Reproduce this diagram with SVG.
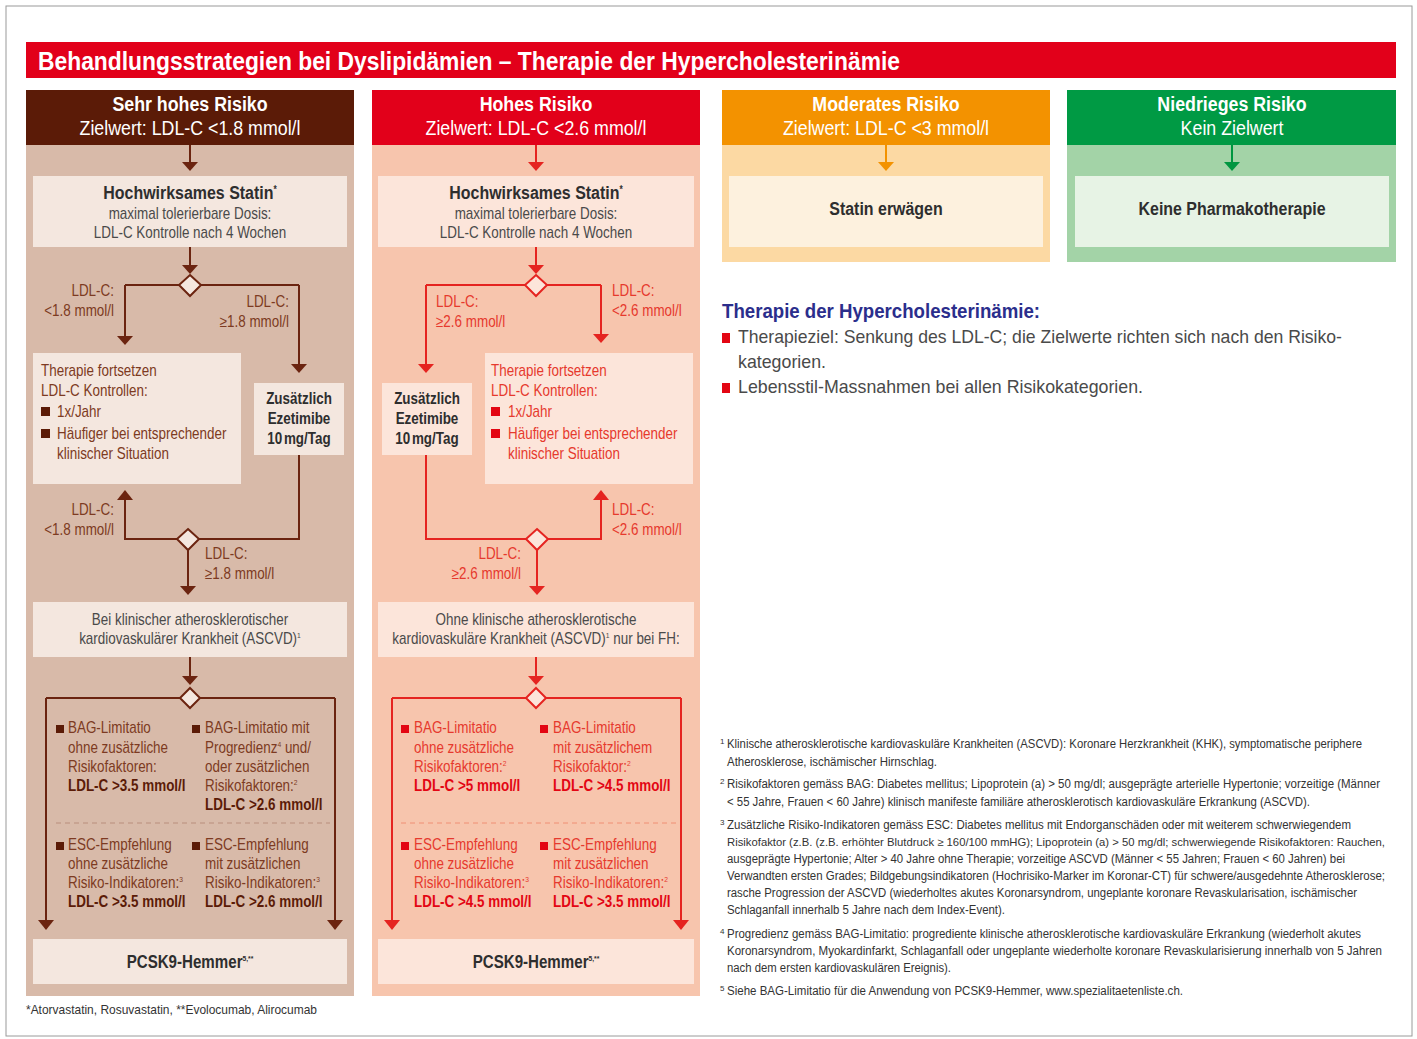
<svg xmlns="http://www.w3.org/2000/svg" width="1417" height="1039" viewBox="0 0 1417 1039">
<style>
text{font-family:"Liberation Sans",Arial,sans-serif;font-size:16px;transform-box:fill-box;transform-origin:0 50%;transform:scaleX(.84)}
.w{transform:none}
.b{font-weight:bold}
.hd{fill:#fff;font-size:20px;text-anchor:middle;transform-origin:50% 50%;transform:scaleX(.89)}
.c{text-anchor:middle;transform-origin:50% 50%}
.r{text-anchor:end;transform-origin:100% 50%}
.dk{fill:#2e2e2e}
.gr{fill:#4a4a4a}
.br{fill:#7d3a22}
.brd{fill:#5b1b07}
.rd{fill:#e6392d}
.rdd{fill:#e30613}
.ln1{stroke:#6b2410;stroke-width:2;fill:none}
.ln2{stroke:#e52420;stroke-width:2;fill:none}
.fn{font-size:12px;fill:#333;transform:none}
.fs{font-size:8px;fill:#333;transform:none}
.sup{font-size:8px}
</style>
<rect x="6" y="6" width="1406" height="1030" fill="#fff" stroke="#9a9a9a" stroke-width="1"/>
<g id="title">
<rect x="26" y="42" width="1370" height="36" fill="#e2001a"/>
<text x="38" y="70" class="b w" style="font-size:25px" fill="#fff" textLength="862" lengthAdjust="spacingAndGlyphs">Behandlungsstrategien bei Dyslipidämien – Therapie der Hypercholesterinämie</text>
</g>
<g id="col1">
<rect x="26" y="145" width="328" height="851" fill="#d8baa9"/>
<rect x="26" y="90" width="328" height="55" fill="#5b1b07"/>
<text x="190" y="111" class="hd b">Sehr hohes Risiko</text>
<text x="190" y="135" class="hd">Zielwert: LDL-C &lt;1.8 mmol/l</text>
</g>
<g id="col2">
<rect x="372" y="145" width="328" height="851" fill="#f7c5ad"/>
<rect x="372" y="90" width="328" height="55" fill="#e2001a"/>
<text x="536" y="111" class="hd b">Hohes Risiko</text>
<text x="536" y="135" class="hd">Zielwert: LDL-C &lt;2.6 mmol/l</text>
</g>
<g id="col3">
<rect x="722" y="145" width="328" height="117" fill="#fcd9a3"/>
<rect x="722" y="90" width="328" height="55" fill="#f39200"/>
<text x="886" y="111" class="hd b">Moderates Risiko</text>
<text x="886" y="135" class="hd">Zielwert: LDL-C &lt;3 mmol/l</text>
</g>
<g id="col4">
<rect x="1067" y="145" width="329" height="117" fill="#a3d3a7"/>
<rect x="1067" y="90" width="329" height="55" fill="#009a44"/>
<text x="1232" y="111" class="hd b">Niedrieges Risiko</text>
<text x="1232" y="135" class="hd">Kein Zielwert</text>
</g>

<g id="statin1">
<rect x="33" y="176" width="314" height="71" fill="#f4e7df"/>
<text x="190" y="199" class="c b dk" style="font-size:19px">Hochwirksames Statin<tspan font-size="10" dy="-6">*</tspan></text>
<text x="190" y="219" class="c gr">maximal tolerierbare Dosis:</text>
<text x="190" y="238" class="c gr">LDL-C Kontrolle nach 4 Wochen</text>
</g>
<g id="fort1">
<rect x="33" y="353" width="208" height="131" fill="#f4e7df"/>
<text x="41" y="376" class="br">Therapie fortsetzen</text>
<text x="41" y="396" class="br">LDL-C Kontrollen:</text>
<rect x="41" y="407" width="9" height="9" fill="#5b1b07"/>
<text x="57" y="417" class="br">1x/Jahr</text>
<rect x="41" y="429" width="9" height="9" fill="#5b1b07"/>
<text x="57" y="439" class="br">Häufiger bei entsprechender</text>
<text x="57" y="459" class="br">klinischer Situation</text>
</g>
<g id="eze1">
<rect x="254" y="383" width="90" height="72" fill="#f4e7df"/>
<text x="299" y="404" class="c b dk">Zusätzlich</text>
<text x="299" y="424" class="c b dk">Ezetimibe</text>
<text x="299" y="444" class="c b dk">10<tspan dx="2">mg/Tag</tspan></text>
</g>
<g id="ascvd1">
<rect x="33" y="602" width="314" height="55" fill="#f4e7df"/>
<text x="190" y="625" class="c gr">Bei klinischer atherosklerotischer</text>
<text x="190" y="644" class="c gr">kardiovaskulärer Krankheit (ASCVD)<tspan class="sup" dy="-6">1</tspan></text>
</g>
<g id="crit1">
<rect x="56" y="725" width="8" height="8" fill="#5b1b07"/>
<text x="68" y="733" class="br">BAG-Limitatio</text>
<text x="68" y="753" class="br">ohne zusätzliche</text>
<text x="68" y="772" class="br">Risikofaktoren:</text>
<text x="68" y="791" class="brd b">LDL-C &gt;3.5 mmol/l</text>
<rect x="192" y="725" width="8" height="8" fill="#5b1b07"/>
<text x="205" y="733" class="br">BAG-Limitatio mit</text>
<text x="205" y="753" class="br">Progredienz<tspan class="sup" dy="-6">4</tspan><tspan dy="6"> und/</tspan></text>
<text x="205" y="772" class="br">oder zusätzlichen</text>
<text x="205" y="791" class="br">Risikofaktoren:<tspan class="sup" dy="-6">2</tspan></text>
<text x="205" y="810" class="brd b">LDL-C &gt;2.6 mmol/l</text>
<line x1="56" y1="823" x2="330" y2="823" stroke="#b98e7c" stroke-width="1" stroke-dasharray="5,4"/>
<rect x="56" y="842" width="8" height="8" fill="#5b1b07"/>
<text x="68" y="850" class="br">ESC-Empfehlung</text>
<text x="68" y="869" class="br">ohne zusätzliche</text>
<text x="68" y="888" class="br">Risiko-Indikatoren:<tspan class="sup" dy="-6">3</tspan></text>
<text x="68" y="907" class="brd b">LDL-C &gt;3.5 mmol/l</text>
<rect x="192" y="842" width="8" height="8" fill="#5b1b07"/>
<text x="205" y="850" class="br">ESC-Empfehlung</text>
<text x="205" y="869" class="br">mit zusätzlichen</text>
<text x="205" y="888" class="br">Risiko-Indikatoren:<tspan class="sup" dy="-6">3</tspan></text>
<text x="205" y="907" class="brd b">LDL-C &gt;2.6 mmol/l</text>
</g>
<g id="pcsk1">
<rect x="33" y="939" width="314" height="45" fill="#f4e7df"/>
<text x="190" y="968" class="c b dk" style="font-size:18px">PCSK9-Hemmer<tspan font-size="8" dy="-7">5,**</tspan></text>
</g>

<g id="statin2">
<rect x="378" y="176" width="316" height="71" fill="#fce5da"/>
<text x="536" y="199" class="c b dk" style="font-size:19px">Hochwirksames Statin<tspan font-size="10" dy="-6">*</tspan></text>
<text x="536" y="219" class="c gr">maximal tolerierbare Dosis:</text>
<text x="536" y="238" class="c gr">LDL-C Kontrolle nach 4 Wochen</text>
</g>
<g id="eze2">
<rect x="382" y="383" width="90" height="72" fill="#fce5da"/>
<text x="427" y="404" class="c b dk">Zusätzlich</text>
<text x="427" y="424" class="c b dk">Ezetimibe</text>
<text x="427" y="444" class="c b dk">10<tspan dx="2">mg/Tag</tspan></text>
</g>
<g id="fort2">
<rect x="485" y="353" width="208" height="131" fill="#fce5da"/>
<text x="491" y="376" class="rd">Therapie fortsetzen</text>
<text x="491" y="396" class="rd">LDL-C Kontrollen:</text>
<rect x="491" y="407" width="9" height="9" fill="#e30613"/>
<text x="508" y="417" class="rd">1x/Jahr</text>
<rect x="491" y="429" width="9" height="9" fill="#e30613"/>
<text x="508" y="439" class="rd">Häufiger bei entsprechender</text>
<text x="508" y="459" class="rd">klinischer Situation</text>
</g>
<g id="ascvd2">
<rect x="378" y="602" width="316" height="55" fill="#fce5da"/>
<text x="536" y="625" class="c gr">Ohne klinische atherosklerotische</text>
<text x="536" y="644" class="c gr">kardiovaskuläre Krankheit (ASCVD)<tspan class="sup" dy="-6">1</tspan><tspan dy="6"> nur bei FH:</tspan></text>
</g>
<g id="crit2">
<rect x="401" y="725" width="8" height="8" fill="#e30613"/>
<text x="414" y="733" class="rd">BAG-Limitatio</text>
<text x="414" y="753" class="rd">ohne zusätzliche</text>
<text x="414" y="772" class="rd">Risikofaktoren:<tspan class="sup" dy="-6">2</tspan></text>
<text x="414" y="791" class="rdd b">LDL-C &gt;5 mmol/l</text>
<rect x="540" y="725" width="8" height="8" fill="#e30613"/>
<text x="553" y="733" class="rd">BAG-Limitatio</text>
<text x="553" y="753" class="rd">mit zusätzlichem</text>
<text x="553" y="772" class="rd">Risikofaktor:<tspan class="sup" dy="-6">2</tspan></text>
<text x="553" y="791" class="rdd b">LDL-C &gt;4.5 mmol/l</text>
<line x1="401" y1="823" x2="676" y2="823" stroke="#f08f75" stroke-width="1" stroke-dasharray="5,4"/>
<rect x="401" y="842" width="8" height="8" fill="#e30613"/>
<text x="414" y="850" class="rd">ESC-Empfehlung</text>
<text x="414" y="869" class="rd">ohne zusätzliche</text>
<text x="414" y="888" class="rd">Risiko-Indikatoren:<tspan class="sup" dy="-6">3</tspan></text>
<text x="414" y="907" class="rdd b">LDL-C &gt;4.5 mmol/l</text>
<rect x="540" y="842" width="8" height="8" fill="#e30613"/>
<text x="553" y="850" class="rd">ESC-Empfehlung</text>
<text x="553" y="869" class="rd">mit zusätzlichen</text>
<text x="553" y="888" class="rd">Risiko-Indikatoren:<tspan class="sup" dy="-6">2</tspan></text>
<text x="553" y="907" class="rdd b">LDL-C &gt;3.5 mmol/l</text>
</g>
<g id="pcsk2">
<rect x="378" y="939" width="316" height="45" fill="#fce5da"/>
<text x="536" y="968" class="c b dk" style="font-size:18px">PCSK9-Hemmer<tspan font-size="8" dy="-7">5,**</tspan></text>
</g>

<g id="statin3">
<rect x="729" y="176" width="314" height="71" fill="#fdf1de"/>
<text x="886" y="215" class="c b dk" style="font-size:19px">Statin erwägen</text>
</g>
<g id="keine4">
<rect x="1075" y="176" width="314" height="71" fill="#e7f3e5"/>
<text x="1232" y="215" class="c b dk" style="font-size:19px">Keine Pharmakotherapie</text>
</g>

<g id="connectors">
<path class="ln1" d="M190,145V163M190,247V266M125,285H179M201,285H299M125,285V337M299,285V365M299,455V539H199M177,539H125V500M188,550V587M190,657V677M46,698H180M200,698H335M46,698V921M335,698V921"/>
<g fill="#6b2410">
<polygon points="182,162 198,162 190,171"/>
<polygon points="182,265 198,265 190,274"/>
<polygon points="117,336 133,336 125,345"/>
<polygon points="291,364 307,364 299,373"/>
<polygon points="117,500 133,500 125,490"/>
<polygon points="180,586 196,586 188,595"/>
<polygon points="182,676 198,676 190,685"/>
<polygon points="38,920 54,920 46,930"/>
<polygon points="327,920 343,920 335,930"/>
</g>
<g fill="#f4e7df" stroke="#6b2410" stroke-width="2">
<polygon points="190,275 201,285 190,296 179,285"/>
<polygon points="188,529 199,539 188,550 177,539"/>
<polygon points="190,688 200,698 190,708 180,698"/>
</g>
<path class="ln2" d="M536,145V163M536,247V266M426,285H525M547,285H601M426,285V365M601,285V335M426,455V539H526M548,539H601V500M537,550V587M536,657V677M392,698H526M546,698H681M392,698V921M681,698V921"/>
<g fill="#e52420">
<polygon points="528,162 544,162 536,171"/>
<polygon points="528,265 544,265 536,274"/>
<polygon points="418,364 434,364 426,373"/>
<polygon points="593,334 609,334 601,343"/>
<polygon points="593,500 609,500 601,490"/>
<polygon points="529,586 545,586 537,595"/>
<polygon points="528,676 544,676 536,685"/>
<polygon points="384,920 400,920 392,930"/>
<polygon points="673,920 689,920 681,930"/>
</g>
<g fill="#fce5da" stroke="#e52420" stroke-width="2">
<polygon points="536,275 547,285 536,296 525,285"/>
<polygon points="537,529 548,539 537,550 526,539"/>
<polygon points="536,688 546,698 536,708 526,698"/>
</g>
<path d="M886,145V163" stroke="#f39200" stroke-width="2"/>
<polygon points="878,162 894,162 886,171" fill="#f39200"/>
<path d="M1232,145V163" stroke="#009640" stroke-width="2"/>
<polygon points="1224,162 1240,162 1232,171" fill="#009640"/>
</g>

<g id="labels1">
<text x="114" y="296" class="r br">LDL-C:</text>
<text x="114" y="316" class="r br">&lt;1.8 mmol/l</text>
<text x="289" y="307" class="r br">LDL-C:</text>
<text x="289" y="327" class="r br">≥1.8 mmol/l</text>
<text x="114" y="515" class="r br">LDL-C:</text>
<text x="114" y="535" class="r br">&lt;1.8 mmol/l</text>
<text x="205" y="559" class="br">LDL-C:</text>
<text x="205" y="579" class="br">≥1.8 mmol/l</text>
</g>
<g id="labels2">
<text x="436" y="307" class="rd">LDL-C:</text>
<text x="436" y="327" class="rd">≥2.6 mmol/l</text>
<text x="612" y="296" class="rd">LDL-C:</text>
<text x="612" y="316" class="rd">&lt;2.6 mmol/l</text>
<text x="612" y="515" class="rd">LDL-C:</text>
<text x="612" y="535" class="rd">&lt;2.6 mmol/l</text>
<text x="521" y="559" class="r rd">LDL-C:</text>
<text x="521" y="579" class="r rd">≥2.6 mmol/l</text>
</g>

<text x="26" y="1014" class="w" style="font-size:13.5px" fill="#333" textLength="291" lengthAdjust="spacingAndGlyphs">*Atorvastatin, Rosuvastatin, **Evolocumab, Alirocumab</text>

<g id="info">
<text x="722" y="318" class="b w" style="font-size:21px" fill="#2b2e8c" textLength="318" lengthAdjust="spacingAndGlyphs">Therapie der Hypercholesterinämie:</text>
<rect x="722" y="333" width="8" height="10" fill="#e30613"/>
<text x="738" y="343" class="w" style="font-size:19px" fill="#4a4a4a" textLength="604" lengthAdjust="spacingAndGlyphs">Therapieziel: Senkung des LDL-C; die Zielwerte richten sich nach den Risiko-</text>
<text x="738" y="368" class="w" style="font-size:19px" fill="#4a4a4a" textLength="88" lengthAdjust="spacingAndGlyphs">kategorien.</text>
<rect x="722" y="383" width="8" height="10" fill="#e30613"/>
<text x="738" y="393" class="w" style="font-size:19px" fill="#4a4a4a" textLength="405" lengthAdjust="spacingAndGlyphs">Lebensstil-Massnahmen bei allen Risikokategorien.</text>
</g>

<g id="footnotes">
<text x="720" y="744" class="fs">1</text>
<text x="727" y="748" class="fn" textLength="635" lengthAdjust="spacingAndGlyphs">Klinische atherosklerotische kardiovaskuläre Krankheiten (ASCVD): Koronare Herzkrankheit (KHK), symptomatische periphere</text>
<text x="727" y="766" class="fn" textLength="210" lengthAdjust="spacingAndGlyphs">Atherosklerose, ischämischer Hirnschlag.</text>
<text x="720" y="784" class="fs">2</text>
<text x="727" y="788" class="fn" textLength="653" lengthAdjust="spacingAndGlyphs">Risikofaktoren gemäss BAG: Diabetes mellitus; Lipoprotein (a) &gt; 50 mg/dl; ausgeprägte arterielle Hypertonie; vorzeitige (Männer</text>
<text x="727" y="806" class="fn" textLength="583" lengthAdjust="spacingAndGlyphs">&lt; 55 Jahre, Frauen &lt; 60 Jahre) klinisch manifeste familiäre atherosklerotisch kardiovaskuläre Erkrankung (ASCVD).</text>
<text x="720" y="825" class="fs">3</text>
<text x="727" y="829" class="fn" textLength="624" lengthAdjust="spacingAndGlyphs">Zusätzliche Risiko-Indikatoren gemäss ESC: Diabetes mellitus mit Endorganschäden oder mit weiterem schwerwiegendem</text>
<text x="727" y="846" class="fn" style="font-size:11px" textLength="658" lengthAdjust="spacingAndGlyphs">Risikofaktor (z.B. (z.B. erhöhter Blutdruck ≥ 160/100 mmHG); Lipoprotein (a) &gt; 50 mg/dl; schwerwiegende Risikofaktoren: Rauchen,</text>
<text x="727" y="863" class="fn" textLength="618" lengthAdjust="spacingAndGlyphs">ausgeprägte Hypertonie; Alter &gt; 40 Jahre ohne Therapie; vorzeitige ASCVD (Männer &lt; 55 Jahren; Frauen &lt; 60 Jahren) bei</text>
<text x="727" y="880" class="fn" textLength="658" lengthAdjust="spacingAndGlyphs">Verwandten ersten Grades; Bildgebungsindikatoren (Hochrisiko-Marker im Koronar-CT) für schwere/ausgedehnte Atherosklerose;</text>
<text x="727" y="897" class="fn" textLength="630" lengthAdjust="spacingAndGlyphs">rasche Progression der ASCVD (wiederholtes akutes Koronarsyndrom, ungeplante koronare Revaskularisation, ischämischer</text>
<text x="727" y="914" class="fn" textLength="278" lengthAdjust="spacingAndGlyphs">Schlaganfall innerhalb 5 Jahre nach dem Index-Event).</text>
<text x="720" y="934" class="fs">4</text>
<text x="727" y="938" class="fn" textLength="634" lengthAdjust="spacingAndGlyphs">Progredienz gemäss BAG-Limitatio: progrediente klinische atherosklerotische kardiovaskuläre Erkrankung (wiederholt akutes</text>
<text x="727" y="955" class="fn" textLength="655" lengthAdjust="spacingAndGlyphs">Koronarsyndrom, Myokardinfarkt, Schlaganfall oder ungeplante wiederholte koronare Revaskularisierung innerhalb von 5 Jahren</text>
<text x="727" y="972" class="fn" textLength="224" lengthAdjust="spacingAndGlyphs">nach dem ersten kardiovaskulären Ereignis).</text>
<text x="720" y="991" class="fs">5</text>
<text x="727" y="995" class="fn" textLength="456" lengthAdjust="spacingAndGlyphs">Siehe BAG-Limitatio für die Anwendung von PCSK9-Hemmer, www.spezialitaetenliste.ch.</text>
</g>
</svg>
